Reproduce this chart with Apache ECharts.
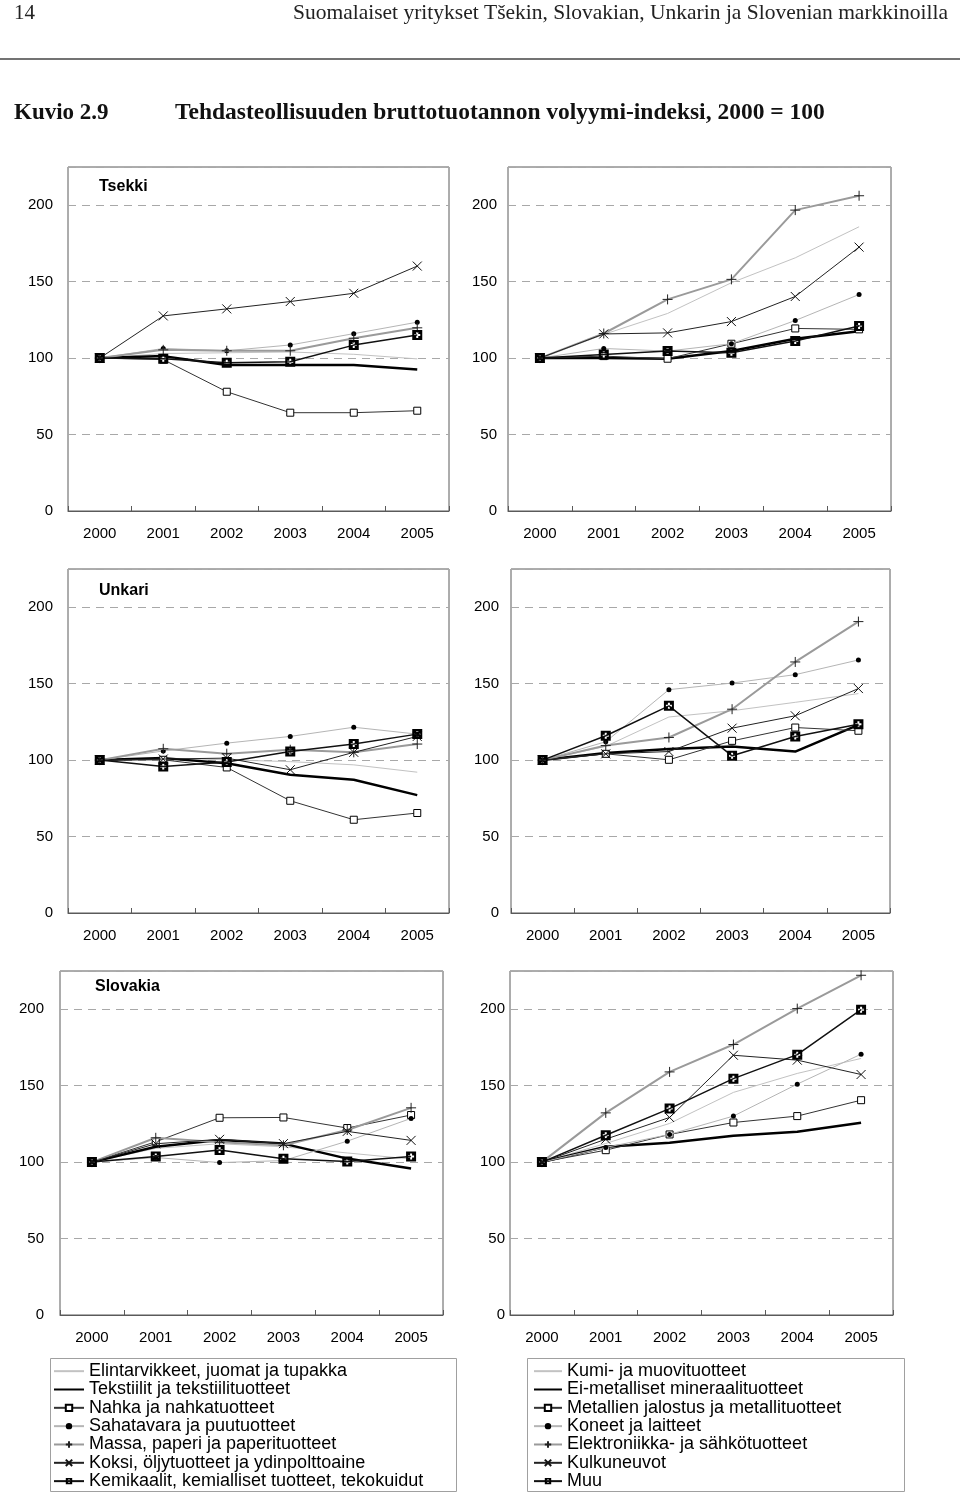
<!DOCTYPE html>
<html><head><meta charset="utf-8">
<script src="https://cdn.jsdelivr.net/npm/echarts@6/dist/echarts.min.js"></script>
<style>html,body{margin:0;padding:0;background:#fff}#c{width:960px;height:1494px}</style>
</head><body><div id="c"></div>
<script>
// ---------- data ----------
const years = ['2000', '2001', '2002', '2003', '2004', '2005'];
const yTicks = [0, 50, 100, 150, 200];

const namesLeft = [
  'Elintarvikkeet, juomat ja tupakka',
  'Tekstiilit ja tekstiilituotteet',
  'Nahka ja nahkatuotteet',
  'Sahatavara ja puutuotteet',
  'Massa, paperi ja paperituotteet',
  'Koksi, öljytuotteet ja ydinpolttoaine',
  'Kemikaalit, kemialliset tuotteet, tekokuidut'
];
const namesRight = [
  'Kumi- ja muovituotteet',
  'Ei-metalliset mineraalituotteet',
  'Metallien jalostus ja metallituotteet',
  'Koneet ja laitteet',
  'Elektroniikka- ja sähkötuotteet',
  'Kulkuneuvot',
  'Muu'
];
const panelTitles = ['Tsekki', '', 'Unkari', '', 'Slovakia', ''];

// rows follow the legend order
const tsekkiLeft = [
  [100, 103, 103.5, 104, 102.5, 99.5],
  [100, 101.3, 95.5, 95.5, 95.5, 92.6],
  [100, 99, 78, 64.3, 64.3, 65.6],
  [100, 106.3, 104.8, 108.6, 116, 123.5],
  [100, 105.4, 104.8, 104.8, 113, 119.8],
  [100, 127.6, 132.2, 137, 142.4, 160.2],
  [100, 99.6, 97, 97.6, 108.5, 115.1]
];
const tsekkiRight = [
  [100, 115.5, 129.2, 149.3, 165.6, 185.9],
  [100, 100, 99.6, 104.6, 112.6, 117.6],
  [100, 101.3, 99.6, 109.4, 119.4, 118.8],
  [100, 106.3, 104.6, 109.4, 124.6, 141.6],
  [100, 116.1, 138.4, 151.5, 196.8, 206.2],
  [100, 115.8, 116.5, 123.9, 140.3, 172.6],
  [100, 102.4, 104.6, 103.5, 111.2, 121]
];
const unkariLeft = [
  [100, 101.3, 100.2, 99, 96.9, 92.1],
  [100, 101.3, 98, 90.4, 87.1, 77.1],
  [100, 100.2, 95.2, 73.4, 61, 65.4],
  [100, 106, 111.1, 115.5, 121.5, 117],
  [100, 107.4, 104.2, 106.8, 105.1, 110.5],
  [100, 100.7, 101.3, 93.7, 105.1, 115.5],
  [100, 95.8, 98.7, 105.6, 110.5, 117]
];
const unkariRight = [
  [100, 109, 128.2, 132.3, 137.8, 143.5],
  [100, 104.6, 107.2, 108.9, 105.6, 123],
  [100, 104.1, 100.2, 112.6, 121.3, 119.2],
  [100, 112, 146.1, 150.4, 155.9, 165.5],
  [100, 109.5, 114.8, 133.3, 164.2, 190.6],
  [100, 104.1, 105.6, 120.9, 129, 146.8],
  [100, 115.9, 135.5, 102.8, 115.5, 123.5]
];
const slovakiaLeft = [
  [100, 109, 112, 110, 106, 102],
  [100, 110, 114.4, 112.1, 102.3, 95.8],
  [100, 113.3, 129, 129.2, 122.3, 130.8],
  [100, 103, 99.7, 101, 113.7, 128.6],
  [100, 115.9, 113, 111, 121, 135.5],
  [100, 112, 114.9, 112.1, 120.1, 114.2],
  [100, 103.6, 107.9, 102.2, 100.4, 103.6]
];
const slovakiaRight = [
  [100, 112.2, 125.3, 145.6, 158, 167.8],
  [100, 110, 112.6, 117.2, 119.8, 125.7],
  [100, 107.8, 118.1, 125.9, 130.1, 140.5],
  [100, 109.6, 118.1, 130.1, 151, 170.6],
  [100, 132.2, 159, 176.9, 200.4, 222.2],
  [100, 115, 129.2, 169.9, 166.7, 157.3],
  [100, 117.6, 135, 154.6, 170.3, 199.7]
];

// ---------- styles / layout ----------
const PLUS = 'path://M0,5L10,5M5,0L5,10';
const CROSS = 'path://M0,0L10,10M10,0L0,10';
const BOXPLUS = 'path://M0,0L10,0L10,10L0,10Z M4,2L4,4L2,4L2,6L4,6L4,8L6,8L6,6L8,6L8,4L6,4L6,2Z';
const seriesStyles = [
  { symbol: 'none', size: 1, line: { color: '#c2c2c2', width: 1 }, item: { color: 'rgba(0,0,0,0)', borderWidth: 0 } },
  { symbol: 'none', size: 1, line: { color: '#000', width: 2.5 }, item: { color: 'rgba(0,0,0,0)', borderWidth: 0 } },
  { symbol: 'rect', size: 7, line: { color: '#333', width: 1 }, item: { color: '#fff', borderColor: '#000', borderWidth: 1 } },
  { symbol: 'circle', size: 5, line: { color: '#b5b5b5', width: 1 }, item: { color: '#000', borderWidth: 0 } },
  { symbol: PLUS, size: 10, line: { color: '#9a9a9a', width: 2 }, item: { color: 'none', borderColor: '#222', borderWidth: 1 } },
  { symbol: CROSS, size: 9, line: { color: '#222', width: 1 }, item: { color: 'none', borderColor: '#111', borderWidth: 1 } },
  { symbol: BOXPLUS, size: 10, line: { color: '#111', width: 1.5 }, item: { color: '#000', borderWidth: 0 } }
];
const panelData = [tsekkiLeft, tsekkiRight, unkariLeft, unkariRight, slovakiaLeft, slovakiaRight];
const gridPos = [
  { left: 68, top: 167, width: 381, height: 344, lm: 15 },
  { left: 508, top: 167, width: 383, height: 344, lm: 11 },
  { left: 68, top: 569, width: 381, height: 344, lm: 15 },
  { left: 511, top: 569, width: 379, height: 344, lm: 12 },
  { left: 60, top: 971, width: 383, height: 344, lm: 16 },
  { left: 510, top: 971, width: 383, height: 344, lm: 5 }
];
const titlePos = [[99, 187], null, [99, 591], null, [95, 987], null];

const SANS = '"Liberation Sans", Arial, sans-serif';
const SERIF = '"Liberation Serif", "Times New Roman", serif';

const grids = [], xAxes = [], yAxes = [], series = [], graphics = [];
panelData.forEach((rows, p) => {
  const g = gridPos[p];
  grids.push({ left: g.left, top: g.top, width: g.width, height: g.height, show: true,
    borderColor: '#5a5a5a', borderWidth: 1, containLabel: false, outerBoundsMode: 'none' });
  xAxes.push({ type: 'category', gridIndex: p, data: years, boundaryGap: true,
    axisLine: { show: true, lineStyle: { color: '#5a5a5a', width: 1 } },
    axisTick: { show: true, inside: true, length: 5, lineStyle: { color: '#5a5a5a' } },
    axisLabel: { color: '#000', fontSize: 15, fontFamily: SANS, margin: 15 },
    splitLine: { show: false } });
  yAxes.push({ type: 'value', gridIndex: p, min: 0, max: 225, interval: 50,
    axisLine: { show: false }, axisTick: { show: false },
    axisLabel: { color: '#000', fontSize: 15, fontFamily: SANS, margin: g.lm, showMaxLabel: false,
      formatter: v => (yTicks.indexOf(v) >= 0 ? String(v) : '') },
    splitLine: { show: true, lineStyle: { color: '#a8a8a8', width: 1, type: [8, 6] } } });
  const names = (p % 2 === 0) ? namesLeft : namesRight;
  rows.forEach((vals, i) => {
    const s = seriesStyles[i];
    series.push({ type: 'line', name: names[i], xAxisIndex: p, yAxisIndex: p, data: vals,
      symbol: s.symbol, symbolSize: s.size, showSymbol: s.symbol !== 'none',
      lineStyle: { color: s.line.color, width: s.line.width },
      itemStyle: s.item, z: 2 + i, silent: true, animation: false });
  });
  if (titlePos[p]) {
    graphics.push({ type: 'text', x: titlePos[p][0], y: titlePos[p][1],
      style: { text: panelTitles[p], font: 'bold 16px ' + SANS, fill: '#000', textVerticalAlign: 'middle' } });
  }
});

// header
graphics.push({ type: 'text', x: 14, y: 13, style: { text: '14', font: '21px ' + SERIF, fill: '#222', textVerticalAlign: 'middle' } });
graphics.push({ type: 'text', x: 948, y: 13, style: { text: 'Suomalaiset yritykset Tšekin, Slovakian, Unkarin ja Slovenian markkinoilla', font: '21.5px ' + SERIF, fill: '#222', textAlign: 'right', textVerticalAlign: 'middle' } });
graphics.push({ type: 'line', shape: { x1: 0, y1: 59, x2: 960, y2: 59 }, style: { stroke: '#444', lineWidth: 1.5 } });
graphics.push({ type: 'text', x: 14, y: 113, style: { text: 'Kuvio 2.9', font: 'bold 23px ' + SERIF, fill: '#111', textVerticalAlign: 'middle' } });
graphics.push({ type: 'text', x: 175, y: 113, style: { text: 'Tehdasteollisuuden bruttotuotannon volyymi-indeksi, 2000 = 100', font: 'bold 23.5px ' + SERIF, fill: '#111', textVerticalAlign: 'middle' } });
// legend frames
graphics.push({ type: 'rect', shape: { x: 50.5, y: 1358.5, width: 406, height: 133 }, style: { fill: 'none', stroke: '#a0a0a0', lineWidth: 1 } });
graphics.push({ type: 'rect', shape: { x: 527.5, y: 1358.5, width: 377, height: 133 }, style: { fill: 'none', stroke: '#a0a0a0', lineWidth: 1 } });

const legendCommon = { orient: 'vertical', top: 1362, itemHeight: 8, itemGap: 0, selectedMode: false,
  textStyle: { color: '#000', fontSize: 18, fontFamily: SANS, lineHeight: 18.33 }, padding: 0 };

const option = {
  animation: false,
  backgroundColor: '#fff',
  grid: grids, xAxis: xAxes, yAxis: yAxes, series: series,
  legend: [
    Object.assign({}, legendCommon, { left: 53, itemWidth: 30, data: namesLeft }),
    Object.assign({}, legendCommon, { left: 533, itemWidth: 28, data: namesRight })
  ],
  graphic: graphics
};
const chart = echarts.init(document.getElementById('c'), null, { renderer: 'canvas' });
chart.setOption(option);
</script>
</body></html>
